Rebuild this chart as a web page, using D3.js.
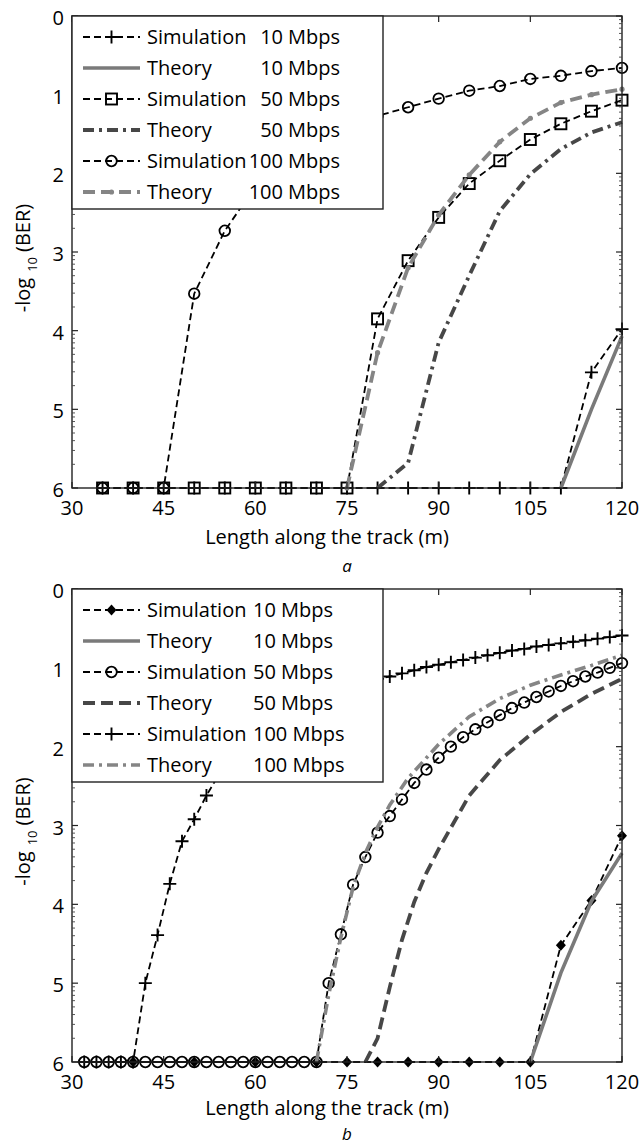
<!DOCTYPE html>
<html>
<head>
<meta charset="utf-8">
<script src="https://cdn.jsdelivr.net/npm/d3@7"></script>
<style>
  body { margin: 0; background: #fff; }
  svg { display: block; font-family: "Open Sans", sans-serif; }
</style>
</head>
<body>
<script>
// BER vs track length, two panels (a, b)

var xTicks = [30, 45, 60, 75, 90, 105, 120];
var yTicks = [0, 1, 2, 3, 4, 5, 6];
var xTitle = "Length along the track (m)";

// ---- panel a ----
var aSim10X = [35, 40, 45, 50, 55, 60, 65, 70, 75, 80, 85, 90, 95, 100, 105, 110, 115, 120];
var aSim10Y = [6, 6, 6, 6, 6, 6, 6, 6, 6, 6, 6, 6, 6, 6, 6, 6, 4.53, 3.98];
var aThe10X = [110, 115, 120];
var aThe10Y = [6, 5.0, 4.07];
var aSim50X = [35, 40, 45, 50, 55, 60, 65, 70, 75, 80, 85, 90, 95, 100, 105, 110, 115, 120];
var aSim50Y = [6, 6, 6, 6, 6, 6, 6, 6, 6, 3.85, 3.11, 2.56, 2.13, 1.84, 1.57, 1.37, 1.21, 1.07];
var aThe50X = [80, 85, 90, 95, 100, 105, 110, 115, 120];
var aThe50Y = [6, 5.68, 4.15, 3.3, 2.48, 2.01, 1.69, 1.48, 1.35];
var aSim100X = [35, 40, 45, 50, 55, 60, 65, 70, 75, 80, 85, 90, 95, 100, 105, 110, 115, 120];
var aSim100Y = [6, 6, 6, 3.53, 2.73, 2.17, 1.85, 1.62, 1.45, 1.27, 1.16, 1.05, 0.95, 0.89, 0.80, 0.76, 0.70, 0.66];
var aThe100X = [75, 80, 85, 90, 95, 100, 105, 110, 115, 120];
var aThe100Y = [6, 4.28, 3.2, 2.53, 2.02, 1.6, 1.3, 1.1, 1.0, 0.93];

// ---- panel b ----
var bSim10X = [40, 50, 60, 70, 75, 80, 85, 90, 95, 100, 105, 110, 115, 120];
var bSim10Y = [6, 6, 6, 6, 6, 6, 6, 6, 6, 6, 6, 4.52, 3.95, 3.13];
var bThe10X = [105, 110, 115, 120];
var bThe10Y = [6, 4.87, 3.96, 3.35];
var bSim50X = [32, 34, 36, 38, 40, 42, 44, 46, 48, 50, 52, 54, 56, 58, 60, 62, 64, 66, 68, 70,
               72, 74, 76, 78, 80, 82, 84, 86, 88, 90, 92, 94, 96, 98, 100, 102, 104, 106, 108, 110,
               112, 114, 116, 118, 120];
var bSim50Y = [6, 6, 6, 6, 6, 6, 6, 6, 6, 6, 6, 6, 6, 6, 6, 6, 6, 6, 6, 6,
               5.0, 4.38, 3.75, 3.40, 3.09, 2.88, 2.67, 2.46, 2.29, 2.14, 2.0, 1.88, 1.78, 1.69, 1.60, 1.51, 1.44, 1.37, 1.30, 1.23,
               1.17, 1.11, 1.06, 1.00, 0.94];
var bThe50X = [78, 80, 82, 84, 86, 88, 90, 95, 100, 105, 110, 115, 120];
var bThe50Y = [6, 5.7, 5.05, 4.45, 3.97, 3.6, 3.3, 2.62, 2.17, 1.85, 1.56, 1.33, 1.14];
var bSim100X = [32, 34, 36, 38, 40, 42, 44, 46, 48, 50, 52, 54, 56, 58, 60, 62, 64, 66, 68, 70,
                72, 74, 76, 78, 80, 82, 84, 86, 88, 90, 92, 94, 96, 98, 100, 102, 104, 106, 108, 110,
                112, 114, 116, 118, 120];
var bSim100Y = [6, 6, 6, 6, 6, 5.0, 4.39, 3.74, 3.2, 2.92, 2.62, 2.36, 2.14, 1.97, 1.83, 1.71, 1.61, 1.52, 1.45, 1.38,
                1.32, 1.27, 1.22, 1.18, 1.14, 1.11, 1.07, 1.03, 0.99, 0.96, 0.93, 0.90, 0.87, 0.84, 0.81, 0.78, 0.76, 0.73, 0.71, 0.69,
                0.67, 0.65, 0.63, 0.61, 0.59];
var bThe100X = [70, 72, 74, 76, 78, 80, 82, 85, 90, 95, 100, 105, 110, 115, 120];
var bThe100Y = [6, 5.15, 4.42, 3.78, 3.35, 3.02, 2.74, 2.4, 1.97, 1.62, 1.39, 1.22, 1.09, 0.97, 0.84];

var legendNames = ["Simulation", "Theory", "Simulation", "Theory", "Simulation", "Theory"];
var aLegendRates = ["10", "10", "50", "50", "100", "100"];
var bLegendRates = ["10", "10", "50", "50", "100", "100"];

// line styles
var simStyle = { stroke: "#000", width: 1.8, dash: "7,4" };
var theSolid = { stroke: "#7a7a7a", width: 3.6, dash: null };
var theDark = { stroke: "#474747", width: 3.8, dash: "11,5,3,5" };
var theDarkDash = { stroke: "#474747", width: 3.8, dash: "12,6" };
var theGrayDash = { stroke: "#858585", width: 3.8, dash: "12,6" };
var theGrayDot = { stroke: "#858585", width: 3.6, dash: "11,5,3,5" };

var svg = d3.select("body").append("svg")
  .attr("width", 639)
  .attr("height", 1144);

var x = d3.scaleLinear().domain([30, 120]).range([72, 622]);

var zip = function(xs, ys) {
  return xs.map(function(v, i) { return { x: v, y: ys[i] }; });
};

var drawMarker = function(g, cx, cy, type) {
  if (type === "plus") {
    g.append("path").attr("d", "M" + (cx - 6.5) + "," + cy + "H" + (cx + 6.5) + "M" + cx + "," + (cy - 6.5) + "V" + (cy + 6.5))
      .attr("stroke", "#000").attr("stroke-width", 1.9).attr("fill", "none");
  } else if (type === "square") {
    g.append("rect").attr("x", cx - 5.5).attr("y", cy - 5.5).attr("width", 11).attr("height", 11)
      .attr("stroke", "#000").attr("stroke-width", 1.9).attr("fill", "none");
  } else if (type === "circle") {
    g.append("circle").attr("cx", cx).attr("cy", cy).attr("r", 5.3)
      .attr("stroke", "#000").attr("stroke-width", 1.8).attr("fill", "none");
  } else if (type === "diamond") {
    g.append("path").attr("d", "M" + cx + "," + (cy - 5.5) + "L" + (cx + 5) + "," + cy + "L" + cx + "," + (cy + 5.5) + "L" + (cx - 5) + "," + cy + "Z")
      .attr("fill", "#000");
  } else if (type === "dot") {
    g.append("circle").attr("cx", cx).attr("cy", cy).attr("r", 2.6).attr("fill", "#858585");
  }
};

var drawPanel = function(top, bottom, series, rates, tag, titleOff, tagOff) {
  var y = d3.scaleLinear().domain([0, 6]).range([top, bottom]);
  var g = svg.append("g");

  var line = d3.line().x(function(d) { return x(d.x); }).y(function(d) { return y(d.y); });

  series.forEach(function(s) {
    var pts = zip(s.xs, s.ys);
    g.append("path").datum(pts)
      .attr("d", line)
      .attr("fill", "none")
      .attr("stroke", s.style.stroke)
      .attr("stroke-width", s.style.width)
      .attr("stroke-dasharray", s.style.dash);
    if (s.marker) {
      pts.forEach(function(p) { drawMarker(g, x(p.x), y(p.y), s.marker); });
    }
  });

  // box + ticks
  var ax = svg.append("g");
  ax.append("rect").attr("x", 72).attr("y", top).attr("width", 550).attr("height", bottom - top)
    .attr("fill", "none").attr("stroke", "#222").attr("stroke-width", 1.4);
  xTicks.forEach(function(t) {
    ax.append("line").attr("x1", x(t)).attr("x2", x(t)).attr("y1", bottom).attr("y2", bottom - 6)
      .attr("stroke", "#222").attr("stroke-width", 1.2);
    ax.append("line").attr("x1", x(t)).attr("x2", x(t)).attr("y1", top).attr("y2", top + 6)
      .attr("stroke", "#222").attr("stroke-width", 1.2);
    ax.append("text").attr("x", x(t)).attr("y", bottom + 27)
      .attr("text-anchor", "middle").attr("font-size", 20).attr("fill", "#000").text(t);
  });
  yTicks.forEach(function(t) {
    ax.append("line").attr("x1", 72).attr("x2", 78).attr("y1", y(t)).attr("y2", y(t))
      .attr("stroke", "#222").attr("stroke-width", 1.2);
    ax.append("line").attr("x1", 622).attr("x2", 616).attr("y1", y(t)).attr("y2", y(t))
      .attr("stroke", "#222").attr("stroke-width", 1.2);
    ax.append("text").attr("x", 64).attr("y", y(t) + 9)
      .attr("text-anchor", "end").attr("font-size", 20).attr("fill", "#000").text(t);
    // minor ticks (log style)
    if (t > 0) {
      [2, 3, 4, 5, 6, 7, 8, 9].forEach(function(k) {
        var v = t - Math.log10(k);
        ax.append("line").attr("x1", 622).attr("x2", 619).attr("y1", y(v)).attr("y2", y(v))
          .attr("stroke", "#444").attr("stroke-width", 0.9);
        ax.append("line").attr("x1", 72).attr("x2", 75).attr("y1", y(v)).attr("y2", y(v))
          .attr("stroke", "#444").attr("stroke-width", 0.9);
      });
    }
  });

  // y label
  var yl = ax.append("text")
    .attr("transform", "translate(30," + ((top + bottom) / 2 + 6) + ") rotate(-90)")
    .attr("text-anchor", "middle").attr("font-size", 20).attr("fill", "#000");
  yl.append("tspan").text("-log");
  yl.append("tspan").attr("font-size", 13).attr("dx", 6).attr("dy", 7).text("10");
  yl.append("tspan").attr("dx", 5).attr("dy", -7).text("(BER)");

  ax.append("text").attr("x", 327).attr("y", bottom + titleOff)
    .attr("text-anchor", "middle").attr("font-size", 20).attr("fill", "#000").text(xTitle);
  ax.append("text").attr("x", 347).attr("y", bottom + tagOff)
    .attr("text-anchor", "middle").attr("font-size", 17).attr("font-style", "italic").attr("fill", "#000").text(tag);

  // legend
  var lg = svg.append("g");
  lg.append("rect").attr("x", 72).attr("y", top).attr("width", 311).attr("height", 193)
    .attr("fill", "#fff").attr("stroke", "#222").attr("stroke-width", 1.4);
  series.forEach(function(s, i) {
    var ry = top + 21 + i * 31;
    lg.append("line").attr("x1", 83).attr("x2", 140).attr("y1", ry).attr("y2", ry)
      .attr("stroke", s.style.stroke).attr("stroke-width", s.style.width)
      .attr("stroke-dasharray", s.style.dash);
    if (s.marker) drawMarker(lg, 111.5, ry, s.marker);
    lg.append("text").attr("x", 147).attr("y", ry + 7).attr("font-size", 20).attr("fill", "#000")
      .text(legendNames[i]);
    if (tag === "a") {
      lg.append("text").attr("x", 283).attr("y", ry + 7).attr("text-anchor", "end")
        .attr("font-size", 20).attr("fill", "#000").text(rates[i]);
      lg.append("text").attr("x", 288).attr("y", ry + 7)
        .attr("font-size", 20).attr("fill", "#000").text("Mbps");
    } else {
      lg.append("text").attr("x", 253).attr("y", ry + 7)
        .attr("font-size", 20).attr("fill", "#000").text(rates[i] + " Mbps");
    }
  });
};

drawPanel(16, 488, [
  { xs: aSim10X, ys: aSim10Y, style: simStyle, marker: "plus" },
  { xs: aThe10X, ys: aThe10Y, style: theSolid },
  { xs: aSim50X, ys: aSim50Y, style: simStyle, marker: "square" },
  { xs: aThe50X, ys: aThe50Y, style: theDark },
  { xs: aSim100X, ys: aSim100Y, style: simStyle, marker: "circle" },
  { xs: aThe100X, ys: aThe100Y, style: theGrayDash, marker: "dot" }
], aLegendRates, "a", 56, 84);

drawPanel(589, 1062, [
  { xs: bSim10X, ys: bSim10Y, style: simStyle, marker: "diamond" },
  { xs: bThe10X, ys: bThe10Y, style: theSolid },
  { xs: bSim50X, ys: bSim50Y, style: simStyle, marker: "circle" },
  { xs: bThe50X, ys: bThe50Y, style: theDarkDash },
  { xs: bSim100X, ys: bSim100Y, style: simStyle, marker: "plus" },
  { xs: bThe100X, ys: bThe100Y, style: theGrayDot }
], bLegendRates, "b", 53, 78);
</script>
</body>
</html>
